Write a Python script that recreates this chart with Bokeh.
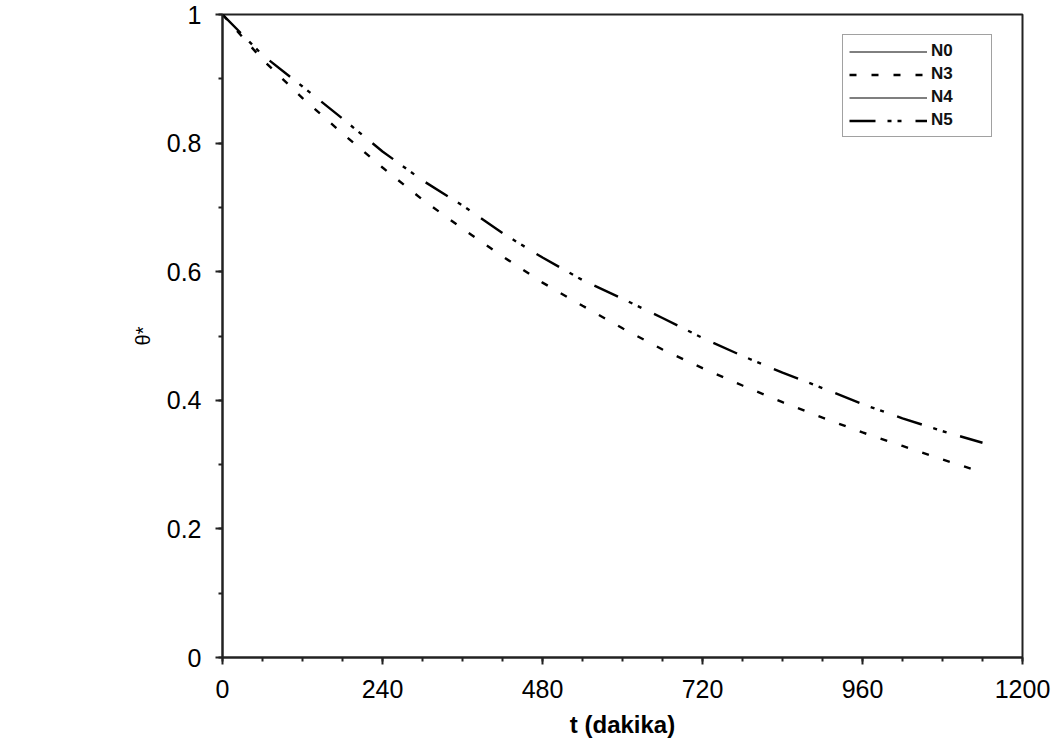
from bokeh.plotting import figure
from bokeh.models import Legend, LegendItem, FixedTicker
from bokeh.embed import file_html
from bokeh.resources import INLINE

# ---- data ----
t_min = [0, 60, 120, 180, 240, 300, 360, 420, 480, 540, 600,
         660, 720, 780, 840, 900, 960, 1020, 1080, 1140]
n5 = [1.000, 0.937, 0.888, 0.838, 0.787, 0.742, 0.703, 0.660, 0.622, 0.587,
      0.558, 0.528, 0.497, 0.469, 0.443, 0.419, 0.394, 0.372, 0.352, 0.334]
n3 = [1.000, 0.930, 0.870, 0.815, 0.762, 0.712, 0.667, 0.624, 0.583, 0.547,
      0.512, 0.479, 0.450, 0.423, 0.397, 0.373, 0.350, 0.329, 0.308, 0.288]
# N0 and N4 are not visible apart from the shared starting point
t_start = [0]
n0 = [1.0]
n4 = [1.0]

x_ticks = [0, 240, 480, 720, 960, 1200]
y_ticks = [0, 0.2, 0.4, 0.6, 0.8, 1.0]
y_tick_labels = {0: "0", 0.2: "0.2", 0.4: "0.4", 0.6: "0.6", 0.8: "0.8", 1.0: "1"}

FONT = "Liberation Sans"

p = figure(width=1058, height=745, frame_width=800, frame_height=643,
           x_range=(0, 1200), y_range=(0, 1),
           output_backend="svg", toolbar_location=None,
           min_border_left=222, min_border_top=14, min_border_right=36,
           min_border_bottom=88)
p.xgrid.visible = False
p.ygrid.visible = False
p.outline_line_color = "#222222"
p.outline_line_width = 2
p.background_fill_color = "white"
p.border_fill_color = "white"

r0 = p.line(t_start, n0, line_color="black", line_width=1)
r3 = p.line(t_min, n3, line_color="black", line_width=2.4, line_dash="7 15")
r4 = p.line(t_start, n4, line_color="black", line_width=1.2)
r5 = p.line(t_min, n5, line_color="black", line_width=2.4,
            line_dash="26 12 4 6 4 14")

legend = Legend(items=[LegendItem(label="N0", renderers=[r0]),
                       LegendItem(label="N3", renderers=[r3]),
                       LegendItem(label="N4", renderers=[r4]),
                       LegendItem(label="N5", renderers=[r5])],
                location=(620, 520))
legend.padding = 6
legend.spacing = 3
legend.glyph_width = 78
legend.glyph_height = 19
legend.label_height = 19
legend.label_width = 54
legend.label_standoff = 4
legend.label_text_font = FONT
legend.label_text_font_size = "17px"
legend.label_text_font_style = "bold"
legend.label_text_color = "#111111"
legend.border_line_color = "#444444"
legend.border_line_width = 1.5
legend.background_fill_color = "white"
legend.background_fill_alpha = 1
legend.margin = 0
p.add_layout(legend, "center")

for ax in (p.xaxis[0], p.yaxis[0]):
    ax.axis_line_color = "#222222"
    ax.axis_line_width = 2
    ax.major_tick_line_color = "#222222"
    ax.major_tick_line_width = 2
    ax.minor_tick_line_color = "#222222"
    ax.minor_tick_line_width = 2
    ax.major_tick_in = 0
    ax.major_tick_out = 7
    ax.minor_tick_in = 0
    ax.minor_tick_out = 4
    ax.major_label_text_font = FONT
    ax.major_label_text_font_size = "25px"
    ax.major_label_text_color = "black"
    ax.axis_label_text_color = "black"
    ax.axis_label_text_font = FONT

p.xaxis[0].ticker = FixedTicker(ticks=x_ticks,
                                minor_ticks=list(range(0, 1201, 60)))
p.yaxis[0].ticker = FixedTicker(ticks=y_ticks,
                                minor_ticks=[i / 10 for i in range(11)])
p.yaxis[0].major_label_overrides = y_tick_labels
p.xaxis[0].major_label_standoff = 15
p.yaxis[0].major_label_standoff = 14

p.xaxis[0].axis_label = "t (dakika)"
p.xaxis[0].axis_label_text_font_style = "bold"
p.xaxis[0].axis_label_text_font_size = "24px"
p.xaxis[0].axis_label_standoff = 10

p.yaxis[0].axis_label = "θ*"
p.yaxis[0].axis_label_text_font_style = "normal"
p.yaxis[0].axis_label_text_font_size = "20px"
p.yaxis[0].axis_label_standoff = 10

open("out.html", "w").write(file_html(p, INLINE))
